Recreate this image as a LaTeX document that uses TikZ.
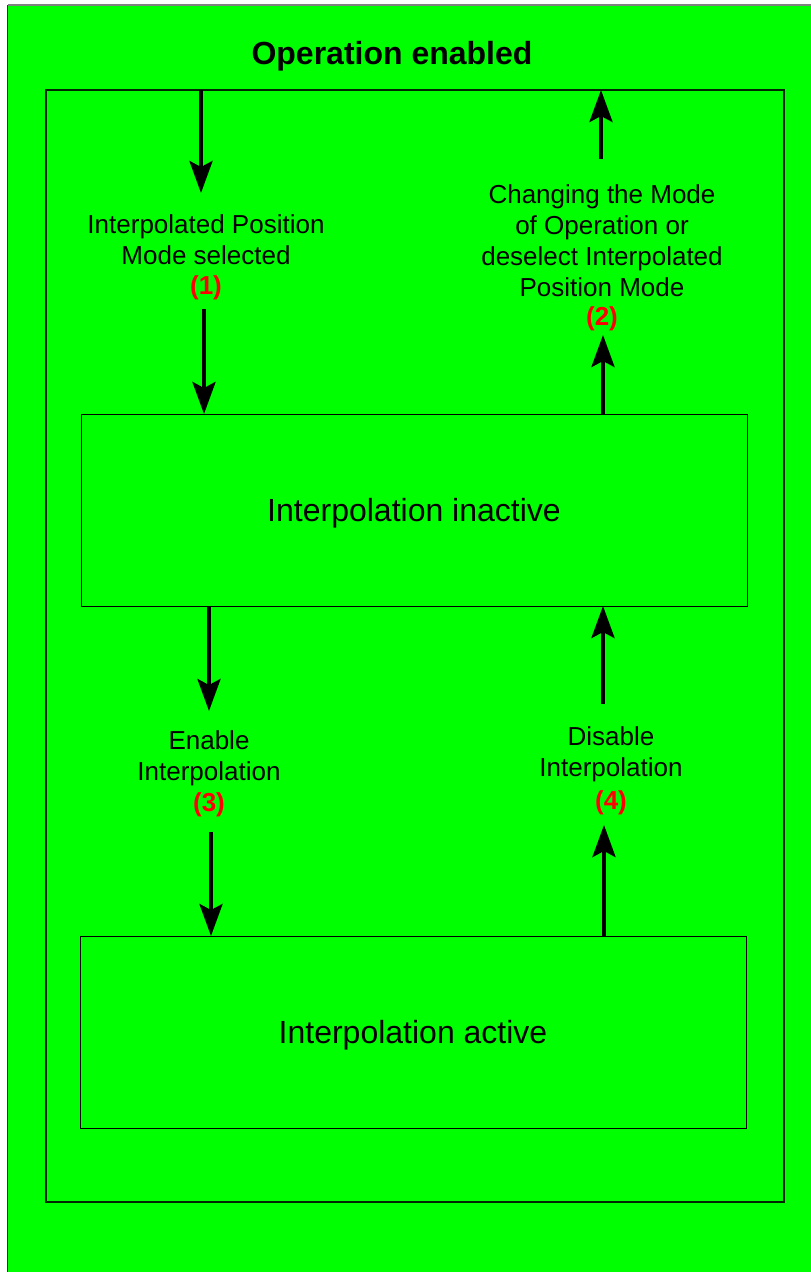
\documentclass[tikz,border=0pt]{standalone}
\usepackage{fontspec}
\setmainfont{Liberation Sans}
\usetikzlibrary{arrows.meta}
\definecolor{bggreen}{RGB}{0,255,0}
\definecolor{numred}{RGB}{255,0,0}
\begin{document}
\begin{tikzpicture}[x=1pt,y=-1pt,
  arr/.style={line width=4pt,-{Stealth[length=32pt,width=23pt,inset=6pt]}},
  statebox/.style={draw=black,line width=1pt,fill=bggreen,minimum width=666pt,minimum height=192pt,font=\fontsize{32}{38}\selectfont},
  lbl/.style={align=center,font=\fontsize{26}{31}\selectfont},
  num/.style={text=numred,font=\fontsize{26}{31}\bfseries}]
\useasboundingbox (0,0) rectangle (811,1272);
\clip (0,0) rectangle (811,1272);
% outer state area
\fill[bggreen] (7.5,5) rectangle (830,1290);
\draw[gray,line width=1.5pt] (7.5,5) -- (830,5);
\draw[black!80,line width=1.5pt] (7.5,5) -- (7.5,1290);
\node[font=\fontsize{32}{38}\bfseries] (title) at (392,56) {Operation enabled};
% inner frame
\node[draw=black!85!green,line width=1.3pt,minimum width=738pt,minimum height=1112pt,inner sep=0pt] (frame) at (415,646) {};
% states
\node[statebox] (inactive) at (414,510) {};
\node at (414,513.5) [font=\fontsize{32}{38}\selectfont] (inactivetext) {Interpolation inactive};
\node[statebox] (active) at (413,1032) {};
\node at (413,1035) [font=\fontsize{32}{38}\selectfont] (activetext) {Interpolation active};
% transition labels
\node[lbl] (l1) at (206,240) {Interpolated Position\\Mode selected};
\node[num] (n1) at (206,287.5) {(1)};
\node[lbl] (l2) at (602,240.5) {Changing the Mode\\of Operation or\\deselect Interpolated\\Position Mode};
\node[num] (n2) at (602,318.5) {(2)};
\node[lbl] (l3) at (209,758) {Enable\\Interpolation};
\node[num] (n3) at (209,804.5) {(3)};
\node[lbl] (l4) at (611,754) {Disable\\Interpolation};
\node[num] (n4) at (611,802.5) {(4)};
% arrow end points
\coordinate (a1s) at (201,90);   \coordinate (a1e) at (201,193);
\coordinate (b1s) at (204,309);  \coordinate (b1e) at (204,414);
\coordinate (a2s) at (601,159);  \coordinate (a2e) at (601,90);
\coordinate (b2s) at (603,414);  \coordinate (b2e) at (603,335);
\coordinate (a3s) at (209,606);  \coordinate (a3e) at (209,711);
\coordinate (b3s) at (211,832);  \coordinate (b3e) at (211,936);
\coordinate (a4s) at (604,936);  \coordinate (a4e) at (604,825);
\coordinate (b4s) at (603,704);  \coordinate (b4e) at (603,606);
\foreach \s/\e in {a1s/a1e,b1s/b1e,a2s/a2e,b2s/b2e,a3s/a3e,b3s/b3e,a4s/a4e,b4s/b4e}
  \draw[arr] (\s) -- (\e);
\end{tikzpicture}
\end{document}
